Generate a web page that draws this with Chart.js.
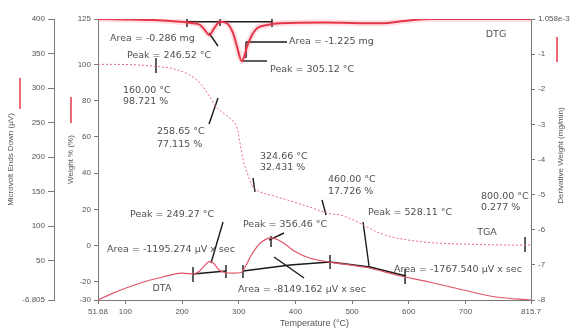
<!DOCTYPE html>
<html>
<head>
<meta charset="utf-8">
<script src="https://cdn.jsdelivr.net/npm/chart.js@4.4.1/dist/chart.umd.min.js"></script>
<style>
  html, body { margin: 0; padding: 0; background: #fff; }
  canvas { display: block; }
</style>
</head>
<body>
<canvas id="grafica" width="576" height="329"></canvas>
<script>
// TGA: peso (%) contra temperatura (°C)
const tempTGA = [51.68, 100, 130, 160, 185, 214, 232, 249, 258.65, 267, 285, 297, 302, 308, 315, 324.66, 335, 360, 390, 420, 460, 480, 500, 519, 548, 578, 610, 640, 700, 800, 815.7];
const pesoTGA = [100, 99.9, 99.5, 98.7, 97.5, 94, 89.5, 82, 77.1, 74.5, 70, 65, 57, 47, 40, 32.4, 30, 27.5, 24.8, 21.8, 17.7, 16.8, 14.5, 11.5, 7, 4.2, 2.6, 1.6, 0.8, 0.277, 0.27];

// DTG: derivada del peso (mg/min)
const tempDTG = [51.68, 100, 150, 196, 215, 232, 241, 248, 256, 267, 279, 290, 298, 305.12, 310, 314.6, 323.4, 332.3, 350, 373, 450, 549, 600, 637, 700, 815.7];
const derivDTG = [0.001, -0.01, -0.03, -0.077, -0.11, -0.17, -0.33, -0.46, -0.28, -0.08, -0.12, -0.4, -0.85, -1.2, -1.05, -0.79, -0.455, -0.26, -0.17, -0.12, -0.1, -0.12, -0.04, 0, 0.001, 0.001];

// DTA: microvolt
const tempDTA = [51.68, 75, 106, 135, 166, 200, 220, 232, 242, 249.27, 256, 265, 275, 290, 304, 312, 320, 335, 350, 356.46, 370, 385, 400, 425, 460, 495, 530, 578, 636, 696, 754, 815.7];
const microvoltDTA = [-6.8, 2, 12, 20, 26.5, 32, 31, 36, 45, 49, 46, 37, 33, 32, 33, 42, 55, 73, 82, 83, 80, 72, 63, 54, 48, 44, 39.5, 29.4, 19.3, 7.7, -2.5, -6.8];

// ticks de los ejes
const tempTicks = [51.68, 100, 200, 300, 400, 500, 600, 700, 815.7];
const pesoTicks = [125, 100, 80, 60, 40, 20, 0, -20, -30];
const microvoltTicks = [400, 350, 300, 250, 200, 150, 100, 50, -6.805];
const derivTicks = [0.001058, -1, -2, -3, -4, -5, -6, -7, -8];
const derivTickLabels = ["1.058e-3", "-1", "-2", "-3", "-4", "-5", "-6", "-7", "-8"];

// lineas negras de anotacion (en unidades de cada eje): [[temp, valor], ...]
const marcasDTG = [
  [[208.7, -0.076], [358.7, -0.076]],
  [[208.7, 0.058], [208.7, -0.227]],
  [[267, 0.086], [267, -0.2]],
  [[358.7, 0.086], [358.7, -0.227]],
  [[247.6, -0.398], [263.4, -0.768]],
  [[312.8, -0.654], [385.2, -0.654]],
  [[312.8, -0.654], [312.8, -1.11]],
  [[307.5, -1.195], [349.9, -1.195]],
];
const marcasTGA = [
  [[154, 103.5], [154, 95.2]],
  [[247.6, 67.1], [263.4, 81.4]],
  [[325.2, 37.3], [328.7, 29.6]],
  [[447, 25.2], [454, 16.9]],
  [[805.2, 4.8], [805.2, -3.5]],
];
const marcasDTA = [
  [[219.3, 30.8], [277.5, 35.2]],
  [[219.3, 41], [219.3, 19.2]],
  [[277.5, 43.8], [277.5, 25]],
  [[272.3, 106.1], [251.1, 46.7]],
  [[307.5, 35.2], [390.5, 43.8], [461.1, 48.2], [531.6, 40.9], [595.2, 27.9]],
  [[307.5, 43.8], [307.5, 25]],
  [[461.1, 58.3], [461.1, 38]],
  [[593.5, 38], [593.5, 16.3]],
  [[362.3, 55.4], [415.2, 25]],
  [[353.4, 80], [379.9, 90.2]],
  [[357, 85.8], [357, 69.9]],
  [[519.3, 106.1], [529.9, 42.4]],
];

// textos (posicion en temp / peso %)
const etiquetas = [
  { t: 72.9, w: 114.5, text: "Area = -0.286 mg" },
  { t: 102.9, w: 105.1, text: "Peak = 246.52 °C" },
  { t: 388.7, w: 112.3, text: "Area = -1.225 mg" },
  { t: 355.2, w: 97.4, text: "Peak = 305.12 °C" },
  { t: 754, w: 116.2, text: "DTG", align: "center" },
  { t: 95.8, w: 85.3, text: "160.00 °C" },
  { t: 95.8, w: 79.2, text: "98.721 %" },
  { t: 155.8, w: 62.7, text: "258.65 °C" },
  { t: 155.8, w: 55.5, text: "77.115 %" },
  { t: 337.5, w: 48.9, text: "324.66 °C" },
  { t: 337.5, w: 42.8, text: "32.431 %" },
  { t: 457.5, w: 36.7, text: "460.00 °C" },
  { t: 457.5, w: 30.1, text: "17.726 %" },
  { t: 727.5, w: 26.8, text: "800.00 °C" },
  { t: 727.5, w: 20.8, text: "0.277 %" },
  { t: 528.1, w: 18.5, text: "Peak = 528.11 °C" },
  { t: 738, w: 7, text: "TGA", align: "center" },
  { t: 108.2, w: 16.9, text: "Peak = 249.27 °C" },
  { t: 307.5, w: 11.9, text: "Peak = 356.46 °C" },
  { t: 67.6, w: -1.9, text: "Area = -1195.274 µV x sec" },
  { t: 164.6, w: -23.4, text: "DTA", align: "center" },
  { t: 298.7, w: -24.5, text: "Area = -8149.162 µV x sec" },
  { t: 574, w: -13.4, text: "Area = -1767.540 µV x sec" },
];

Chart.defaults.font.family = '"Liberation Sans", Arial, sans-serif';
Chart.defaults.color = "#555";

const rojo = "#e8344a";
const ejeColor = "#7a7a7a";

function puntos(xs, ys) {
  return xs.map((x, i) => ({ x: x, y: ys[i] }));
}

function marcas(lista, eje) {
  return lista.map((seg) => ({
    data: seg.map((p) => ({ x: p[0], y: p[1] })),
    yAxisID: eje,
    borderColor: "#1a1a1a",
    borderWidth: 1.4,
    pointRadius: 0,
    showLine: true,
    tension: 0,
  }));
}

function fijarTicks(valores) {
  return (scale) => {
    scale.ticks = valores.map((v) => ({ value: v }));
  };
}

const ejeBase = {
  type: "linear",
  border: { display: true, color: ejeColor, width: 1 },
  grid: { display: true, drawOnChartArea: false, drawTicks: true, tickLength: 4, color: ejeColor },
  ticks: { font: { size: 8 }, color: "#555", autoSkip: false, maxRotation: 0, padding: 3 },
};

const textosPlugin = {
  id: "textos",
  afterDatasetsDraw(chart) {
    const { ctx, scales, chartArea } = chart;
    ctx.save();
    ctx.font = '9.5px "DejaVu Sans", sans-serif';
    ctx.fillStyle = "#505050";
    ctx.textBaseline = "middle";
    etiquetas.forEach((e) => {
      ctx.textAlign = e.align || "left";
      ctx.fillText(e.text, scales.x.getPixelForValue(e.t), scales.yW.getPixelForValue(e.w));
    });

    // titulo del eje derecho (girado como los de la izquierda)
    const yD = scales.yD;
    ctx.save();
    ctx.translate(yD.right - 15, (chartArea.top + chartArea.bottom) / 2 - 4);
    ctx.rotate(-Math.PI / 2);
    ctx.textAlign = "center";
    ctx.font = '8px "Liberation Sans", Arial, sans-serif';
    ctx.fillStyle = "#555";
    ctx.fillText("Derivative Weight (mg/min)", 0, 0);
    ctx.restore();

    // marcadores rojos de leyenda junto a los titulos
    ctx.strokeStyle = rojo;
    ctx.lineWidth = 1.5;
    const lineas = [
      [scales.yDTA.left + 20, chartArea.top + 59, chartArea.top + 90],
      [scales.yW.left + 17, chartArea.top + 78, chartArea.top + 104],
      [yD.right - 19, chartArea.top + 18, chartArea.top + 43],
    ];
    lineas.forEach((l) => {
      ctx.beginPath();
      ctx.moveTo(l[0], l[1]);
      ctx.lineTo(l[0], l[2]);
      ctx.stroke();
    });
    ctx.restore();
  },
};

const grafica = document.getElementById("grafica");

new Chart(grafica, {
  type: "scatter",
  data: {
    datasets: [
      {
        label: "DTA",
        data: puntos(tempDTA, microvoltDTA),
        yAxisID: "yDTA",
        borderColor: "#e25468",
        borderWidth: 1.2,
        pointRadius: 0,
        showLine: true,
        cubicInterpolationMode: "monotone",
      },
      {
        label: "TGA",
        data: puntos(tempTGA, pesoTGA),
        yAxisID: "yW",
        borderColor: "#e4697a",
        borderWidth: 1,
        borderDash: [2, 2],
        pointRadius: 0,
        showLine: true,
        cubicInterpolationMode: "monotone",
      },
      {
        // halo rosado bajo la curva DTG
        label: "DTG halo",
        data: puntos(tempDTG, derivDTG),
        yAxisID: "yD",
        borderColor: "rgba(232, 52, 74, 0.15)",
        borderWidth: 6,
        pointRadius: 0,
        showLine: true,
        cubicInterpolationMode: "monotone",
      },
      {
        label: "DTG",
        data: puntos(tempDTG, derivDTG),
        yAxisID: "yD",
        borderColor: rojo,
        borderWidth: 2,
        pointRadius: 0,
        showLine: true,
        cubicInterpolationMode: "monotone",
      },
      ...marcas(marcasDTG, "yD"),
      ...marcas(marcasTGA, "yW"),
      ...marcas(marcasDTA, "yDTA"),
    ],
  },
  options: {
    responsive: false,
    animation: false,
    layout: { padding: { top: 19, left: 0, right: 0, bottom: 0 } },
    plugins: { legend: { display: false }, tooltip: { enabled: false } },
    scales: {
      x: {
        ...ejeBase,
        position: "bottom",
        min: 51.68,
        max: 815.7,
        afterBuildTicks: fijarTicks(tempTicks),
        afterFit: (s) => { s.height = 29; },
        ticks: { ...ejeBase.ticks, callback: (v) => String(v) },
        title: { display: true, text: "Temperature (°C)", font: { size: 9 }, color: "#555", padding: { top: 3, bottom: 0 } },
      },
      yW: {
        ...ejeBase,
        position: "left",
        weight: 1,
        min: -30,
        max: 125,
        afterBuildTicks: fijarTicks(pesoTicks),
        afterFit: (s) => { s.width = 44; },
        ticks: { ...ejeBase.ticks, callback: (v) => String(v) },
        title: { display: true, text: "Weight % (%)", font: { size: 8 }, color: "#555", padding: { top: 12, bottom: 0 } },
      },
      yDTA: {
        ...ejeBase,
        position: "left",
        weight: 2,
        min: -6.805,
        max: 400,
        afterBuildTicks: fijarTicks(microvoltTicks),
        afterFit: (s) => { s.width = 54; },
        grid: { ...ejeBase.grid, tickLength: 6 },
        ticks: { ...ejeBase.ticks, callback: (v) => String(v) },
        title: { display: true, text: "Microvolt Ends Down (µV)", font: { size: 8 }, color: "#555", padding: { top: 6, bottom: 0 } },
      },
      yD: {
        ...ejeBase,
        position: "right",
        min: -8,
        max: 0.001058,
        afterBuildTicks: fijarTicks(derivTicks),
        afterFit: (s) => { s.width = 45; },
        ticks: { ...ejeBase.ticks, callback: (v, i) => derivTickLabels[i] },
        title: { display: false },
      },
    },
  },
  plugins: [textosPlugin],
});
</script>
</body>
</html>
